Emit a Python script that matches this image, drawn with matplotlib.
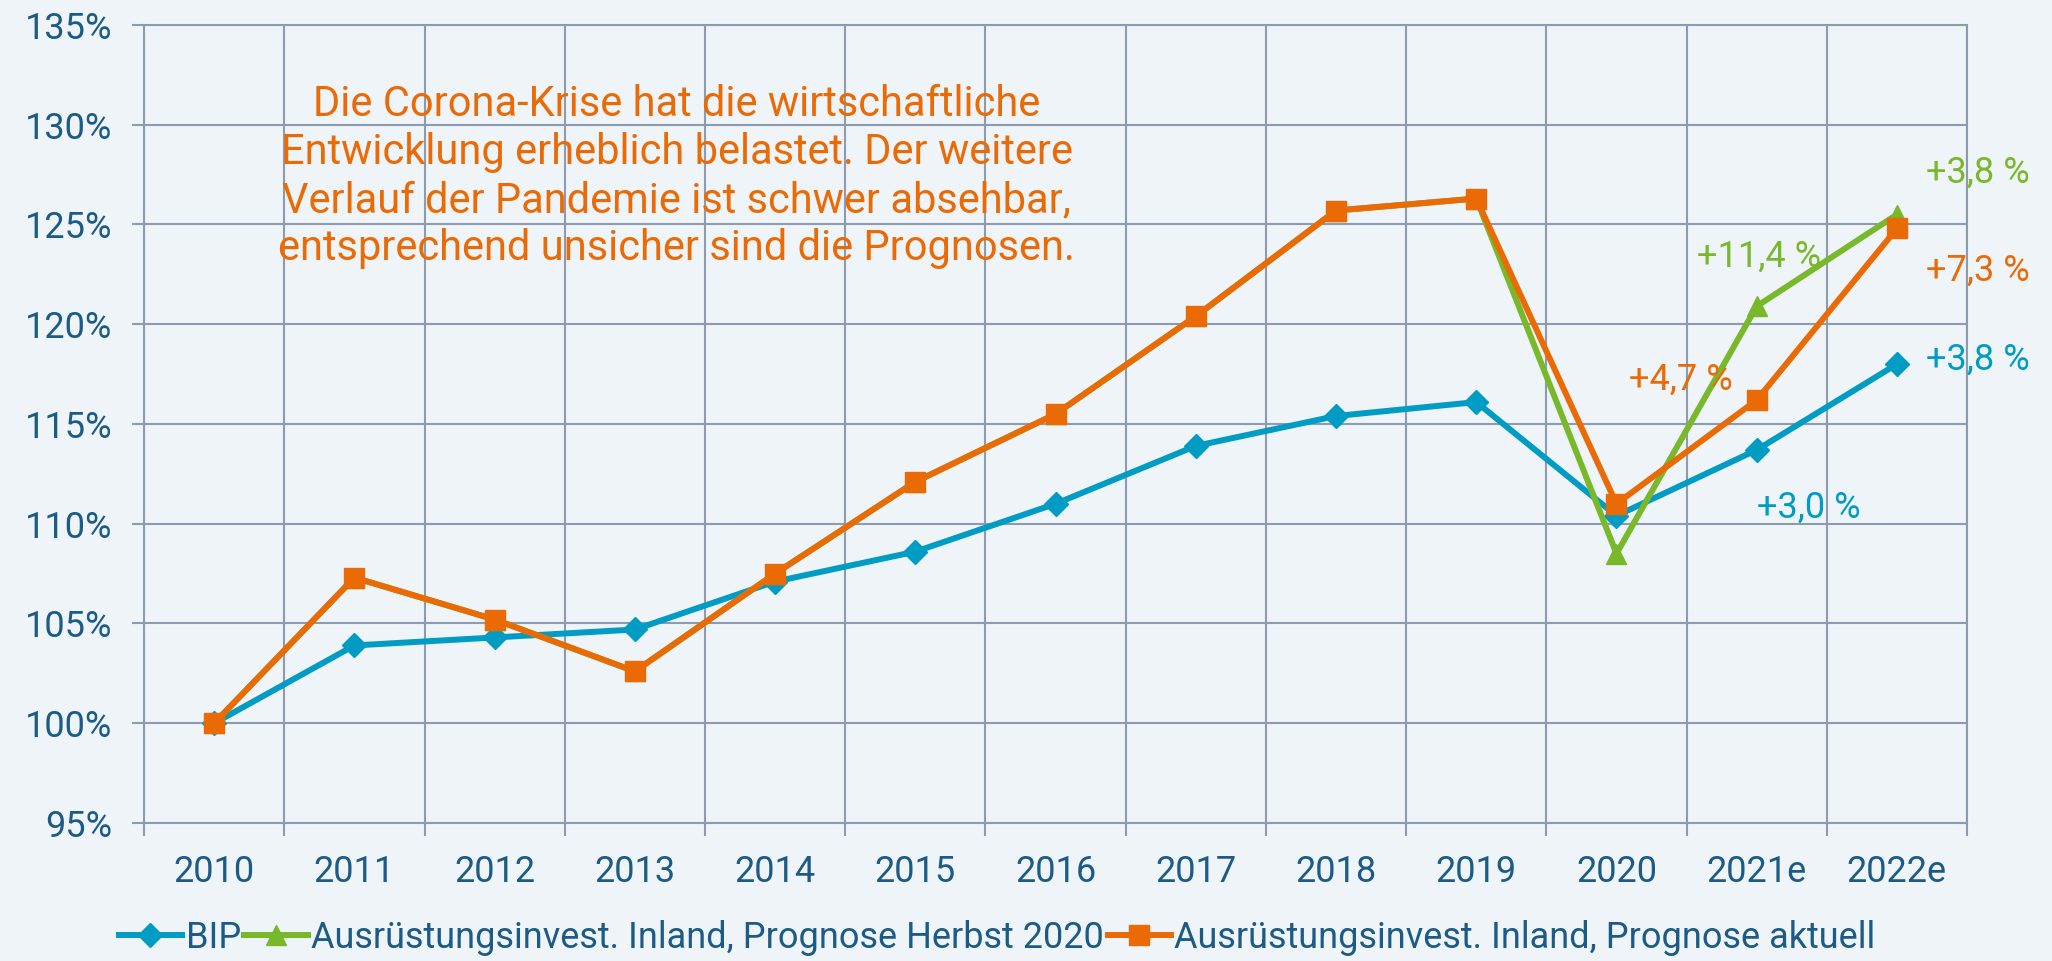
import matplotlib
matplotlib.use('Agg')
import matplotlib.pyplot as plt
import numpy as np

# ==========================================
# 1. Daten
# ==========================================
jahre = ['2010', '2011', '2012', '2013', '2014', '2015', '2016',
         '2017', '2018', '2019', '2020', '2021e', '2022e']

bip = [100.0, 103.9, 104.3, 104.7, 107.1, 108.6, 111.0,
       113.9, 115.4, 116.1, 110.4, 113.7, 118.0]

invest_herbst = [100.0, 107.3, 105.2, 102.6, 107.5, 112.1, 115.5,
                 120.4, 125.7, 126.3, 108.5, 120.9, 125.5]

invest_aktuell = [100.0, 107.3, 105.2, 102.6, 107.5, 112.1, 115.5,
                  120.4, 125.7, 126.3, 111.0, 116.2, 124.8]

y_ticks = [95, 100, 105, 110, 115, 120, 125, 130, 135]

hinweis = ('Die Corona-Krise hat die wirtschaftliche\n'
           'Entwicklung erheblich belastet. Der weitere\n'
           'Verlauf der Pandemie ist schwer absehbar,\n'
           'entsprechend unsicher sind die Prognosen.')

# Veränderungsraten (Text, Jahr-Index, y-Position, Farbe)
labels = [
    ('+3,8 %', 12.58, 127.6, '#78B82A'),
    ('+11,4 %', 11.02, 123.4, '#78B82A'),
    ('+7,3 %', 12.58, 122.7, '#EA6A05'),
    ('+4,7 %', 10.46, 117.2, '#EA6A05'),
    ('+3,8 %', 12.58, 118.2, '#009CC4'),
    ('+3,0 %', 11.37, 110.8, '#009CC4'),
]

# ==========================================
# 2. Stil
# ==========================================
BG = '#EFF4F9'
GRID = '#8C9BB0'
TXT = '#1B5B86'
BLUE = '#009CC4'
GREEN = '#78B82A'
ORANGE = '#EA6A05'
fam = ['Roboto', 'DejaVu Sans']

fig = plt.figure(figsize=(20.52, 9.61), dpi=100, facecolor=BG)
ax = fig.add_axes([0.0702, 0.1436, 0.8884, 0.8304])
ax.set_facecolor(BG)

x = np.arange(len(jahre))

ax.plot(x, bip, color=BLUE, lw=4.3, marker='D', ms=12, label='BIP', zorder=3)
ax.plot(x, invest_herbst, color=GREEN, lw=4.3, marker='^', ms=15,
        label='Ausrüstungsinvest. Inland, Prognose Herbst 2020', zorder=4)
ax.plot(x, invest_aktuell, color=ORANGE, lw=4.3, marker='s', ms=15,
        label='Ausrüstungsinvest. Inland, Prognose aktuell', zorder=5)

# Achsen und Gitter
ax.set_xlim(-0.5, len(jahre) - 0.5)
ax.set_ylim(95, 135)
ax.set_xticks(x)
ax.set_xticklabels(jahre)
ax.set_xticks(np.arange(-0.5, len(jahre)), minor=True)
ax.set_yticks(y_ticks)
ax.set_yticklabels([f'{v}%' for v in y_ticks])

ax.tick_params(axis='x', which='major', length=0, pad=22, labelsize=26, labelcolor=TXT)
ax.tick_params(axis='x', which='minor', length=9, width=1.5, color=GRID)
ax.tick_params(axis='y', length=9, width=1.5, color=GRID, pad=14, labelsize=26, labelcolor=TXT)
for lab in ax.get_xticklabels() + ax.get_yticklabels():
    lab.set_family(fam)

ax.grid(True, which='minor', axis='x', color=GRID, lw=1.5)
ax.grid(True, which='major', axis='y', color=GRID, lw=1.5)
for s in ax.spines.values():
    s.set_color(GRID)
    s.set_linewidth(1.5)
ax.set_axisbelow(True)

# Texte
ax.text(3.3, 127.4, hinweis, ha='center', va='center', fontsize=30,
        color=ORANGE, family=fam, linespacing=1.22)
for txt, xi, yi, col in labels:
    ax.text(xi, yi, txt, ha='center', va='center', fontsize=26,
            color=col, family=fam, zorder=6)

# Legende
leg = ax.legend(loc='center', bbox_to_anchor=(0.486, 0.024), bbox_transform=fig.transFigure,
                ncol=3, frameon=False, handlelength=1.75, handletextpad=0.1,
                columnspacing=0.1, prop={'family': fam, 'size': 26})
for t in leg.get_texts():
    t.set_color(TXT)

fig.savefig('out.png', dpi=100, facecolor=BG)
